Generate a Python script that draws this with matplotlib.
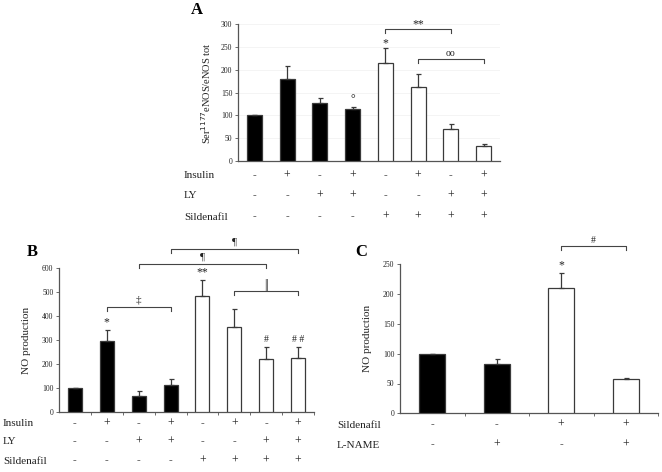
import numpy as np
import matplotlib
matplotlib.use("Agg")
import matplotlib.pyplot as plt
from matplotlib.transforms import blended_transform_factory

plt.rcParams['font.family'] = ['Liberation Serif', 'DejaVu Serif']

# Panel A: Ser1177 eNOS / eNOS tot
a_vals = [100, 181, 127, 114, 214, 162, 70, 34]
a_err = [0, 28, 12, 4, 33, 28, 12, 3]
a_insulin = ['-', '+', '-', '+', '-', '+', '-', '+']
a_ly = ['-', '-', '+', '+', '-', '-', '+', '+']
a_sild = ['-', '-', '-', '-', '+', '+', '+', '+']

# Panel B: NO production
b_vals = [100, 297, 68, 112, 482, 354, 221, 226]
b_err = [0, 43, 21, 28, 66, 76, 50, 46]
b_insulin = ['-', '+', '-', '+', '-', '+', '-', '+']
b_ly = ['-', '-', '+', '+', '-', '-', '+', '+']
b_sild = ['-', '-', '-', '-', '+', '+', '+', '+']

# Panel C: NO production
c_vals = [100, 83, 210, 57]
c_err = [0, 8, 25, 1.5]
c_sild = ['-', '-', '+', '+']
c_lname = ['-', '+', '-', '+']

W, H = 662, 472
fig = plt.figure(figsize=(W / 100, H / 100), dpi=100)

EDGE = '#3a3a3a'
TXT = '#222222'


def px_axes(x0, x1, ytop, ybot):
    return fig.add_axes([x0 / W, 1 - ybot / H, (x1 - x0) / W, (ybot - ytop) / H])


def style(ax, ymax, step, between_ticks):
    for s in ['top', 'right']:
        ax.spines[s].set_visible(False)
    for s in ['left', 'bottom']:
        ax.spines[s].set_color('#555555')
        ax.spines[s].set_linewidth(0.9)
    ax.set_ylim(0, ymax)
    ax.set_yticks(np.arange(0, ymax + 1, step))
    ax.tick_params(axis='y', labelsize=5.5, length=2, width=0.6, color='#555555',
                   labelcolor=TXT, pad=2)
    n = len(ax.patches)
    ax.set_xlim(-0.5, n - 0.5)
    if between_ticks:
        ax.set_xticks(np.arange(0.5, n, 1))
        ax.tick_params(axis='x', length=2.5, width=0.6, color='#555555', labelbottom=False)
    else:
        ax.set_xticks([])


def bars(ax, vals, err, width, nblack):
    x = np.arange(len(vals))
    colors = ['black'] * nblack + ['white'] * (len(vals) - nblack)
    ax.bar(x, vals, width=width, color=colors, edgecolor=EDGE, linewidth=0.9, zorder=3)
    ax.errorbar(x, vals, yerr=[np.zeros(len(vals)), err], fmt='none', ecolor=EDGE,
                elinewidth=0.9, capsize=1.8, capthick=0.9, zorder=4)


def bracket(ax, x0, x1, y, drop, label, ly, fs=8):
    ax.plot([x0, x0, x1, x1], [y - drop, y, y, y - drop], color='#444444', lw=0.8,
            clip_on=False, zorder=5)
    ax.text((x0 + x1) / 2, ly, label, ha='center', va='center', fontsize=fs, color=TXT,
            clip_on=False)


def table(ax, rows, names, ys, label_x):
    tr = blended_transform_factory(ax.transData, fig.transFigure)
    for row, name, y in zip(rows, names, ys):
        fig.text(label_x / W, 1 - y / H, name, ha='left', va='center', fontsize=8, color=TXT)
        for i, s in enumerate(row):
            ax.text(i, 1 - y / H, s, transform=tr, ha='center', va='center',
                    fontsize=8.5 if s == '+' else 8, color=TXT if s == '+' else '#555555')


# ---- Panel A
axA = px_axes(238, 500, 24.3, 161)
bars(axA, a_vals, a_err, 0.46, 4)
style(axA, 300, 50, False)
axA.yaxis.grid(True, color='#f3f3f3', lw=0.6, zorder=0)
axA.set_ylabel('Ser$^{1177}$eNOS/eNOS tot', fontsize=7.5, color=TXT, labelpad=6)
axA.text(4, 258, '*', ha='center', va='center', fontsize=8.5, color=TXT)
axA.text(3, 136, '°', ha='center', va='center', fontsize=8.5, color=TXT)
bracket(axA, 4, 6, 290, 9, '**', 300, fs=8.5)
bracket(axA, 5, 7, 224, 9, 'oo', 237, fs=7)
table(axA, [a_insulin, a_ly, a_sild], ['Insulin', 'LY', 'Sildenafil'], [176, 196, 217], 184)
fig.text(197 / W, 1 - 9.5 / H, 'A', fontsize=12, fontweight='bold', ha='center', va='center')

# ---- Panel B
axB = px_axes(59, 314, 267.7, 412.3)
bars(axB, b_vals, b_err, 0.44, 4)
style(axB, 600, 100, True)
axB.set_ylabel('NO production', fontsize=8, color=TXT, labelpad=8)
axB.text(1, 372, '*', ha='center', va='center', fontsize=8.5, color=TXT)
axB.text(4, 579, '**', ha='center', va='center', fontsize=8.5, color=TXT)
axB.text(6, 303, '#', ha='center', va='center', fontsize=7, color=TXT)
axB.text(7, 303, '# #', ha='center', va='center', fontsize=7, color=TXT)
bracket(axB, 1, 3, 436, 17, '‡', 466)
bracket(axB, 5, 7, 505, 17, '||', 530, fs=8.5)
bracket(axB, 2, 6, 614, 17, '¶', 643)
bracket(axB, 3, 7, 676, 17, '¶', 708)
table(axB, [b_insulin, b_ly, b_sild], ['Insulin', 'LY', 'Sildenafil'], [424, 442, 461], 3)
fig.text(32 / W, 1 - 251.7 / H, 'B', fontsize=12, fontweight='bold', ha='center', va='center')

# ---- Panel C
axC = px_axes(400, 658, 264.3, 413.3)
bars(axC, c_vals, c_err, 0.4, 2)
style(axC, 250, 50, True)
axC.set_ylabel('NO production', fontsize=8, color=TXT, labelpad=8)
axC.text(2, 249, '*', ha='center', va='center', fontsize=8.5, color=TXT)
bracket(axC, 2, 3, 281, 7, '#', 290, fs=7)
table(axC, [c_sild, c_lname], ['Sildenafil', 'L-NAME'], [425, 445], 337)
fig.text(361 / W, 1 - 251.7 / H, 'C', fontsize=12, fontweight='bold', ha='center', va='center')

fig.savefig('out.png', dpi=100)
